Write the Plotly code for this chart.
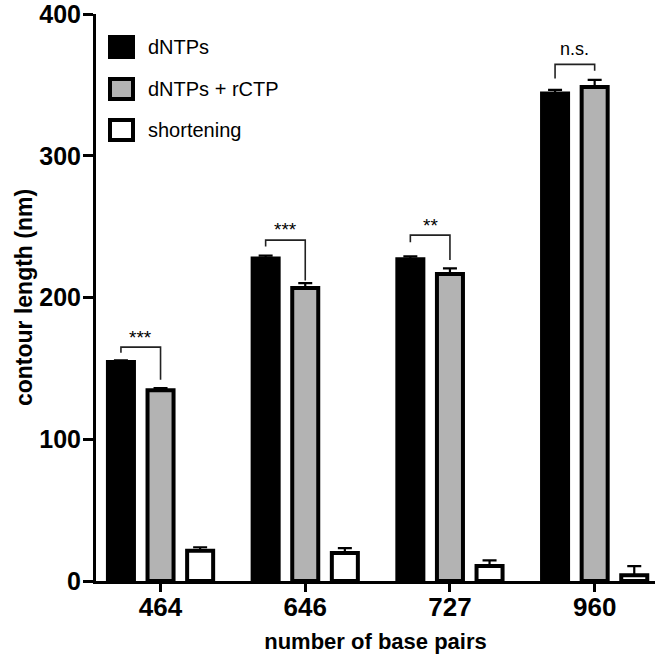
import plotly.graph_objects as go

# ---- data ----
categories = ["464", "646", "727", "960"]
series_names = ["dNTPs", "dNTPs + rCTP", "shortening"]
dntps = [154.5, 227.5, 227.0, 344.0]
dntps_err = [1.2, 2.0, 2.0, 2.5]
rctp = [134.5, 206.7, 216.5, 348.5]
rctp_err = [1.5, 3.5, 4.0, 5.0]
shortening = [21.3, 19.7, 10.5, 4.0]
shortening_err = [2.5, 3.5, 4.0, 6.5]
sig_labels = ["***", "***", "**", "n.s."]
# bracket levels (y, data units): top, left leg end, right leg end, label
br_top = [165, 240.5, 244, 364.5]
br_left = [161, 236, 239, 354.5]
br_right = [142, 212, 226.5, 360]
br_text = [171.5, 248, 250.5, 375]
y_ticks = [0, 100, 200, 300, 400]

FONT = "Liberation Sans, Arial, Helvetica, sans-serif"
W, H = 664, 660
L, R, T, B = 96, 9, 14, 79

fills = ["#000000", "#b3b3b3", "#ffffff"]
vals = [dntps, rctp, shortening]
errs = [dntps_err, rctp_err, shortening_err]

fig = go.Figure()
for name, v, e, c in zip(series_names, vals, errs, fills):
    fig.add_trace(go.Bar(
        x=categories, y=v, name=name,
        marker=dict(color=c, line=dict(color="black", width=4)),
        error_y=dict(type="data", array=e, arrayminus=[0] * len(e), symmetric=False,
                     color="black", thickness=2.2, width=7),
        showlegend=False,
    ))

# offsets inside a group (category units)
slot = (1 - 0.179) / 3
off_black = -slot
off_gray = 0.0

shapes = []
annotations = []
for i, lab in enumerate(sig_labels):
    xl = i + off_black
    xr = i + off_gray
    shapes.append(dict(type="path", xref="x", yref="y",
                       path=f"M {xl},{br_left[i]} L {xl},{br_top[i]} L {xr},{br_top[i]} L {xr},{br_right[i]}",
                       line=dict(color="#222222", width=1.6)))
    annotations.append(dict(x=(xl + xr) / 2, y=br_text[i], xref="x", yref="y",
                            text=lab, showarrow=False,
                            font=dict(family=FONT, size=18 if lab == "n.s." else 19, color="black"),
                            yanchor="middle"))

# manual legend (pixel -> paper)
pw = W - L - R
ph = H - T - B
def px(xp):
    return (xp - L) / pw
def py(yp):
    return (H - B - yp) / ph

leg_rows = [47, 89, 130]
for name, c, yc in zip(series_names, fills, leg_rows):
    shapes.append(dict(type="rect", xref="paper", yref="paper",
                       x0=px(110), x1=px(133), y0=py(yc + 10), y1=py(yc - 10),
                       fillcolor=c, line=dict(color="black", width=4)))
    annotations.append(dict(x=px(146), y=py(yc), xref="paper", yref="paper",
                            text=name, showarrow=False, xanchor="left", yanchor="middle",
                            font=dict(family=FONT, size=20, color="black")))

fig.update_layout(
    width=W, height=H,
    margin=dict(l=L, r=R, t=T, b=B, pad=0, autoexpand=False),
    paper_bgcolor="white", plot_bgcolor="white",
    barmode="group", bargap=0.179, bargroupgap=0.343,
    shapes=shapes, annotations=annotations,
    font=dict(family=FONT, color="black"),
)
fig.update_xaxes(
    type="category", range=[-0.446, 3.417], automargin=False,
    showline=True, linewidth=3, linecolor="black",
    ticks="outside", ticklen=8, tickwidth=3, tickcolor="black",
    tickfont=dict(family=FONT, size=26, weight="bold"),
    ticklabelstandoff=-7, ticklabeloverflow="allow",
    title=dict(text="number of base pairs", font=dict(family=FONT, size=22, weight="bold"), standoff=13),
    showgrid=False, zeroline=False,
)
fig.update_yaxes(
    range=[0, 400.01], tickvals=y_ticks, automargin=False,
    showline=True, linewidth=3, linecolor="black",
    ticks="outside", ticklen=10, tickwidth=3, tickcolor="black",
    tickfont=dict(family=FONT, size=25, weight="bold"),
    ticklabelstandoff=-3, ticklabeloverflow="allow",
    title=dict(text="contour length (nm)", font=dict(family=FONT, size=23, weight="bold"), standoff=1),
    showgrid=False, zeroline=False,
)

fig.write_html("out.html", config={"displayModeBar": False},
               post_script="document.body.style.margin='0';document.body.style.padding='0';")
